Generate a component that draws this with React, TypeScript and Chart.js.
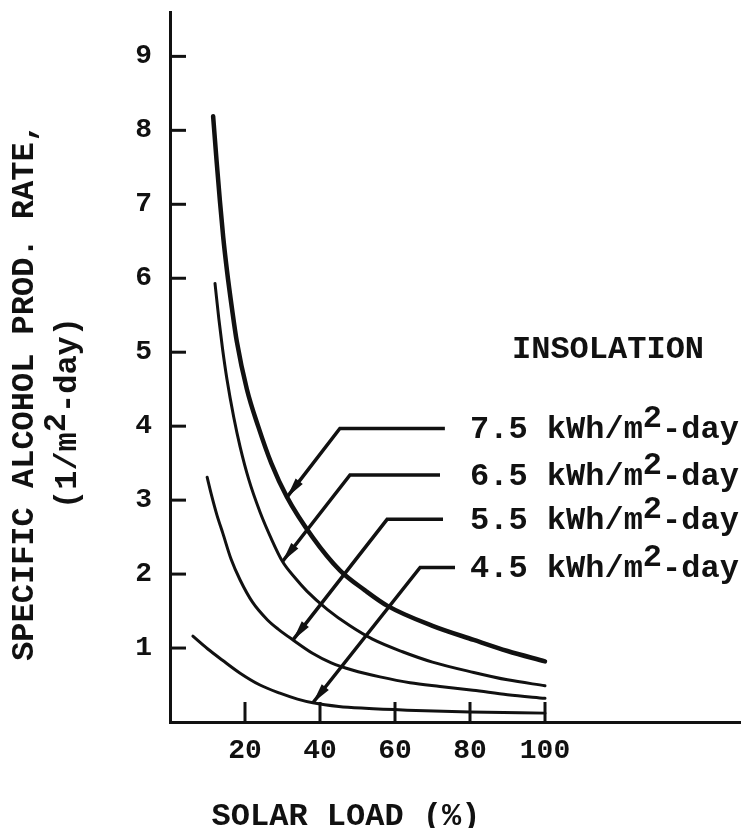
import React, { useEffect, useRef } from 'react';
import { Chart, registerables } from 'chart.js';

Chart.register(...registerables);

// ---- axis ticks ----
const xTicks = [20, 40, 60, 80, 100];
const yTicks = [1, 2, 3, 4, 5, 6, 7, 8, 9];

// ---- series (solar load %, specific alcohol production rate) ----
const insolationLabels = ['7.5', '6.5', '5.5', '4.5'];

const load75 = [11.5, 12.4, 13.3, 14.2, 15.2, 16.5, 17.8, 20.5, 23.5, 27, 31.2, 38, 45.3, 52, 58, 70, 81, 90, 100];
const rate75 = [8.19, 7.6, 7.05, 6.55, 6.1, 5.6, 5.15, 4.5, 4.0, 3.5, 3.04, 2.5, 2.05, 1.78, 1.57, 1.3, 1.11, 0.96, 0.82];

const load65 = [12, 13, 14, 15.2, 17, 18.7, 21, 24, 27, 30, 33.5, 36.5, 42, 48, 54, 62, 70, 81, 90, 100];
const rate65 = [5.93, 5.46, 5.05, 4.63, 4.12, 3.72, 3.28, 2.84, 2.48, 2.17, 1.94, 1.77, 1.52, 1.3, 1.12, 0.95, 0.81, 0.67, 0.57, 0.49];

const load55 = [9.9, 11, 12.5, 14.1, 16.3, 18.7, 22, 26, 29, 32.8, 38, 43, 48.8, 56, 64, 72, 80.8, 90, 100];
const rate55 = [3.31, 3.08, 2.8, 2.55, 2.2, 1.92, 1.62, 1.38, 1.25, 1.11, 0.93, 0.8, 0.7, 0.61, 0.53, 0.48, 0.43, 0.37, 0.32];

const load45 = [6.1, 10, 14, 18.7, 24, 29.3, 34, 38.1, 45, 52, 63.2, 80, 100];
const rate45 = [1.16, 0.99, 0.835, 0.66, 0.5, 0.39, 0.31, 0.26, 0.21, 0.185, 0.16, 0.135, 0.12];

// ---- leader lines (data units) ----
const leaderEndX = [73.3, 72.0, 72.8, 76.0];
const leaderElbowX = [45.3, 48.0, 57.9, 66.7];
const leaderY = [3.97, 3.34, 2.74, 2.09];
const arrowTipX = [31.2, 30.0, 32.8, 38.1];
const arrowTipY = [3.04, 2.17, 1.11, 0.26];
const labelStartX = 80;
const insolationPos = { x: 91.2, y: 4.92 };

const FONT_FAMILY = '"Liberation Mono", "DejaVu Sans Mono", monospace';
const INK = '#111';

function toPoints(xs: number[], ys: number[]) {
  return xs.map((v, i) => ({ x: v, y: ys[i] }));
}

const decorPlugin = {
  id: 'decor',
  afterDatasetsDraw(chart: any) {
    const { ctx, chartArea } = chart;
    const xs = chart.scales.x;
    const ys = chart.scales.y;
    ctx.save();
    ctx.strokeStyle = INK;
    ctx.fillStyle = INK;
    ctx.lineWidth = 3;
    ctx.lineCap = 'butt';
    // inward tick marks
    for (const v of yTicks) {
      const py = ys.getPixelForValue(v);
      ctx.beginPath();
      ctx.moveTo(chartArea.left, py);
      ctx.lineTo(chartArea.left + 16, py);
      ctx.stroke();
    }
    for (const v of xTicks) {
      const px = xs.getPixelForValue(v);
      ctx.beginPath();
      ctx.moveTo(px, chartArea.bottom);
      ctx.lineTo(px, chartArea.bottom - 20);
      ctx.stroke();
    }
    // arrowheads
    for (let i = 0; i < arrowTipX.length; i++) {
      const tx = xs.getPixelForValue(arrowTipX[i]);
      const ty = ys.getPixelForValue(arrowTipY[i]);
      const ex = xs.getPixelForValue(leaderElbowX[i]);
      const ey = ys.getPixelForValue(leaderY[i]);
      let dx = tx - ex;
      let dy = ty - ey;
      const len = Math.hypot(dx, dy);
      dx /= len;
      dy /= len;
      const bx = tx - dx * 20;
      const by = ty - dy * 20;
      const nx = -dy;
      const ny = dx;
      ctx.beginPath();
      ctx.moveTo(tx, ty);
      ctx.lineTo(bx + nx * 4.5, by + ny * 4.5);
      ctx.lineTo(bx - nx * 4.5, by - ny * 4.5);
      ctx.closePath();
      ctx.fill();
    }
    // text
    ctx.font = `bold 32px ${FONT_FAMILY}`;
    ctx.textBaseline = 'alphabetic';
    ctx.textAlign = 'left';
    const drawSup = (pre: string, post: string, x0: number, base: number) => {
      let cx = x0;
      ctx.fillText(pre, cx, base);
      cx += ctx.measureText(pre).width;
      ctx.fillText('2', cx, base - 11);
      cx += ctx.measureText('2').width;
      ctx.fillText(post, cx, base);
    };
    ctx.fillText('INSOLATION', xs.getPixelForValue(insolationPos.x), ys.getPixelForValue(insolationPos.y));
    for (let i = 0; i < insolationLabels.length; i++) {
      const base = ys.getPixelForValue(leaderY[i]) + 10;
      drawSup(`${insolationLabels[i]} kWh/m`, '-day', xs.getPixelForValue(labelStartX), base);
    }
    // x title
    ctx.textAlign = 'center';
    ctx.fillText('SOLAR LOAD (%)', 346, 825);
    // y title line 1
    ctx.save();
    ctx.translate(33, 392);
    ctx.rotate(-Math.PI / 2);
    ctx.textAlign = 'center';
    ctx.fillText('SPECIFIC ALCOHOL PROD. RATE,', 0, 0);
    ctx.restore();
    // y title line 2
    ctx.save();
    ctx.translate(76, 413);
    ctx.rotate(-Math.PI / 2);
    ctx.textAlign = 'left';
    const w = ctx.measureText('(1/m2-day)').width;
    drawSup('(1/m', '-day)', -w / 2, 0);
    ctx.restore();
    ctx.restore();
  },
};

export default function App() {
  const ref = useRef<HTMLCanvasElement | null>(null);

  useEffect(() => {
    if (!ref.current) return;
    const curve = (xs: number[], ys: number[], width: number) => ({
      data: toPoints(xs, ys),
      borderColor: INK,
      borderWidth: width,
      pointRadius: 0,
      cubicInterpolationMode: 'monotone' as const,
      borderCapStyle: 'round' as const,
      fill: false,
    });
    const leaders = leaderEndX.map((_, i) => ({
      data: [
        { x: leaderEndX[i], y: leaderY[i] },
        { x: leaderElbowX[i], y: leaderY[i] },
        { x: arrowTipX[i], y: arrowTipY[i] },
      ],
      borderColor: INK,
      borderWidth: 3.5,
      pointRadius: 0,
      tension: 0,
      borderJoinStyle: 'miter' as const,
      fill: false,
    }));
    const chart = new Chart(ref.current, {
      type: 'line',
      data: {
        datasets: [
          curve(load75, rate75, 4.5),
          curve(load65, rate65, 3),
          curve(load55, rate55, 3),
          curve(load45, rate45, 3),
          ...leaders,
        ] as any,
      },
      options: {
        animation: false,
        responsive: false,
        maintainAspectRatio: false,
        layout: { padding: { top: 12, right: 3, left: 0, bottom: 0 } },
        plugins: { legend: { display: false }, tooltip: { enabled: false } },
        scales: {
          x: {
            type: 'linear',
            min: 0,
            max: 152,
            afterBuildTicks: (s: any) => {
              s.ticks = xTicks.map((v) => ({ value: v }));
            },
            afterFit: (s: any) => {
              s.height = 106;
              s.paddingLeft = 0;
              s.paddingRight = 0;
            },
            grid: { display: true, drawOnChartArea: false, drawTicks: false, color: 'rgba(0,0,0,0)' },
            border: { display: true, color: INK, width: 3 },
            ticks: { padding: 12, color: INK, font: { family: FONT_FAMILY, size: 28, weight: 'bold' } },
          },
          y: {
            type: 'linear',
            min: 0,
            max: 9.6,
            afterBuildTicks: (s: any) => {
              s.ticks = yTicks.map((v) => ({ value: v }));
            },
            afterFit: (s: any) => {
              s.width = 170;
              s.paddingTop = 0;
              s.paddingBottom = 0;
            },
            grid: { display: true, drawOnChartArea: false, drawTicks: false, color: 'rgba(0,0,0,0)' },
            border: { display: true, color: INK, width: 3 },
            ticks: { padding: 18, color: INK, font: { family: FONT_FAMILY, size: 28, weight: 'bold' } },
          },
        },
      } as any,
      plugins: [decorPlugin],
    });
    return () => chart.destroy();
  }, []);

  return (
    <div style={{ position: 'absolute', left: 0, top: 0, width: 743, height: 828, background: '#fff' }}>
      <canvas ref={ref} width={743} height={828} style={{ display: 'block' }} />
    </div>
  );
}
